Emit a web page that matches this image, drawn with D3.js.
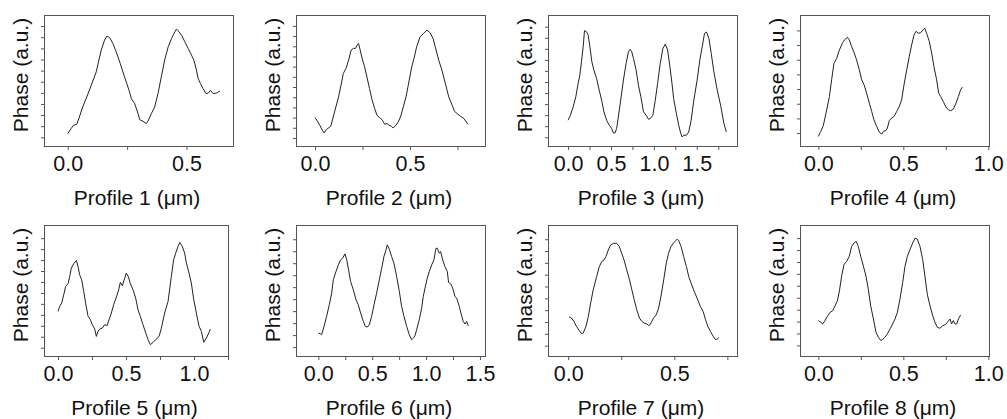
<!DOCTYPE html>
<html>
<head>
<meta charset="utf-8">
<script src="https://cdn.jsdelivr.net/npm/d3@7"></script>
<style>
  body { margin: 0; background: #fff; }
  svg { display: block; font-family: "Liberation Sans", Arial, sans-serif; }
  .frame { fill: none; stroke: #555; stroke-width: 1; }
  .axis path { display: none; }
  .axis line { stroke: #555; }
  .ttl { fill: #111; font-size: 21px; }
  .trace { fill: none; stroke: #222; stroke-width: 1; }
</style>
</head>
<body>
<div id="chart"></div>
<script>
// profile data: [distance (um), phase (a.u.)]
var profile1 = [[0.000,0.33],[0.014,0.78],[0.024,1.08],[0.038,1.17],[0.049,1.83],[0.063,2.73],[0.080,3.63],[0.099,4.68],[0.120,5.89],[0.131,6.94],[0.141,7.84],[0.155,8.74],[0.165,9.10],[0.176,8.98],[0.190,8.44],[0.204,7.69],[0.221,6.64],[0.239,5.44],[0.258,4.23],[0.268,3.48],[0.282,3.03],[0.296,2.13],[0.303,1.59],[0.317,1.44],[0.331,1.23],[0.338,1.47],[0.352,2.13],[0.366,2.73],[0.380,3.93],[0.394,5.44],[0.408,6.94],[0.423,8.14],[0.437,8.89],[0.451,9.49],[0.458,9.73],[0.465,9.58],[0.479,9.19],[0.493,8.59],[0.507,7.99],[0.521,7.39],[0.531,6.94],[0.542,6.04],[0.549,5.29],[0.559,4.83],[0.570,4.38],[0.582,3.93],[0.592,3.99],[0.601,4.23],[0.613,3.93],[0.627,3.99],[0.641,4.17]];
var profile2 = [[0.000,2.00],[0.012,1.67],[0.025,1.25],[0.039,0.75],[0.048,0.49],[0.060,0.82],[0.074,1.02],[0.083,1.15],[0.096,2.07],[0.110,3.05],[0.124,4.03],[0.137,5.18],[0.149,6.33],[0.163,6.82],[0.177,7.64],[0.190,8.62],[0.202,8.79],[0.213,8.79],[0.220,9.05],[0.229,9.28],[0.238,8.62],[0.248,7.80],[0.261,6.98],[0.273,6.00],[0.287,4.85],[0.301,3.70],[0.314,2.89],[0.326,2.23],[0.340,2.00],[0.355,1.74],[0.367,1.34],[0.379,1.41],[0.390,1.25],[0.402,1.15],[0.411,0.98],[0.426,1.25],[0.438,1.57],[0.450,2.07],[0.465,3.05],[0.479,4.03],[0.491,5.18],[0.509,6.98],[0.521,7.80],[0.535,8.95],[0.553,9.93],[0.571,10.26],[0.589,10.59],[0.606,10.33],[0.621,9.77],[0.633,8.95],[0.651,7.64],[0.668,6.66],[0.686,5.34],[0.704,4.03],[0.722,3.21],[0.734,2.62],[0.748,2.39],[0.766,2.13],[0.784,1.90],[0.805,1.34]];
var profile3 = [[0.000,1.54],[0.027,1.99],[0.059,2.75],[0.090,3.66],[0.117,4.86],[0.137,5.62],[0.156,6.83],[0.176,8.19],[0.191,9.64],[0.215,9.55],[0.234,9.24],[0.254,8.19],[0.277,6.83],[0.301,6.07],[0.332,5.32],[0.363,4.26],[0.391,3.35],[0.418,2.30],[0.449,1.54],[0.480,1.09],[0.508,0.79],[0.527,0.39],[0.547,0.39],[0.566,0.79],[0.586,1.84],[0.613,3.35],[0.645,5.17],[0.676,6.68],[0.703,7.73],[0.723,7.95],[0.742,7.73],[0.762,7.13],[0.793,6.07],[0.820,4.71],[0.848,3.66],[0.879,2.30],[0.910,1.99],[0.938,1.63],[0.957,1.69],[0.988,1.99],[1.016,3.35],[1.043,4.86],[1.074,6.68],[1.105,8.04],[1.133,8.43],[1.160,7.89],[1.184,6.53],[1.211,4.86],[1.230,3.50],[1.262,2.14],[1.289,1.09],[1.309,0.48],[1.328,0.03],[1.348,0.18],[1.379,0.18],[1.406,0.48],[1.434,1.54],[1.465,3.35],[1.504,5.17],[1.535,6.98],[1.563,8.19],[1.590,9.40],[1.613,9.52],[1.641,8.94],[1.668,7.58],[1.699,5.92],[1.738,4.26],[1.777,2.90],[1.816,1.24],[1.844,0.48]];
var profile4 = [[0.000,-0.23],[0.014,0.11],[0.029,0.50],[0.045,1.36],[0.065,2.49],[0.078,3.63],[0.092,4.76],[0.108,5.10],[0.124,5.67],[0.143,6.17],[0.157,6.39],[0.171,6.53],[0.182,6.35],[0.196,5.90],[0.210,5.49],[0.225,4.99],[0.241,4.31],[0.255,3.63],[0.269,3.29],[0.284,2.72],[0.300,2.04],[0.314,1.47],[0.327,0.91],[0.343,0.45],[0.359,0.05],[0.373,-0.07],[0.382,0.11],[0.398,0.18],[0.406,0.34],[0.418,0.86],[0.431,1.02],[0.445,1.13],[0.461,1.47],[0.476,1.81],[0.490,2.27],[0.504,3.29],[0.520,4.31],[0.535,5.22],[0.549,6.01],[0.563,6.69],[0.575,6.94],[0.588,6.80],[0.602,6.85],[0.618,7.07],[0.627,7.14],[0.637,6.80],[0.653,6.24],[0.667,5.44],[0.680,4.54],[0.696,3.63],[0.708,2.72],[0.720,2.49],[0.735,2.15],[0.751,1.77],[0.765,1.59],[0.778,1.52],[0.794,1.63],[0.810,2.04],[0.824,2.49],[0.837,2.95],[0.847,3.13]];
var profile5 = [[0.000,3.31],[0.012,3.77],[0.027,4.07],[0.042,4.83],[0.056,5.59],[0.074,5.84],[0.086,6.50],[0.098,7.26],[0.115,7.66],[0.135,7.96],[0.147,7.42],[0.159,6.66],[0.174,6.20],[0.189,5.14],[0.203,4.07],[0.221,2.86],[0.238,2.55],[0.252,2.10],[0.270,1.70],[0.282,1.03],[0.294,1.49],[0.306,1.70],[0.326,1.79],[0.343,2.10],[0.360,2.01],[0.375,2.55],[0.392,3.16],[0.409,3.92],[0.429,4.62],[0.446,5.29],[0.458,5.96],[0.473,5.65],[0.490,6.35],[0.502,6.81],[0.517,6.50],[0.532,5.84],[0.551,5.29],[0.571,4.53],[0.588,3.47],[0.605,2.86],[0.625,2.10],[0.645,1.34],[0.662,0.73],[0.679,0.27],[0.699,0.49],[0.718,0.73],[0.743,1.03],[0.760,1.79],[0.784,3.16],[0.809,4.22],[0.833,6.50],[0.850,8.02],[0.865,8.63],[0.882,9.24],[0.895,9.60],[0.914,9.24],[0.931,8.63],[0.944,7.72],[0.963,6.81],[0.980,5.90],[0.998,4.38],[1.017,3.16],[1.037,1.95],[1.054,1.49],[1.071,0.49],[1.091,0.88],[1.110,1.40],[1.120,1.70]];
var profile6 = [[0.000,1.17],[0.022,1.11],[0.031,1.03],[0.053,1.72],[0.077,2.56],[0.102,3.53],[0.124,4.50],[0.139,5.61],[0.164,6.31],[0.186,6.86],[0.207,7.28],[0.226,7.42],[0.247,7.78],[0.263,7.33],[0.281,6.44],[0.300,5.47],[0.325,4.78],[0.350,3.94],[0.371,3.53],[0.393,2.83],[0.418,2.14],[0.436,1.72],[0.455,1.67],[0.473,1.86],[0.495,2.56],[0.517,3.53],[0.541,4.50],[0.566,5.61],[0.588,6.58],[0.609,7.56],[0.628,8.11],[0.640,8.53],[0.659,8.17],[0.680,7.56],[0.702,7.00],[0.727,5.89],[0.752,4.64],[0.773,3.39],[0.795,2.56],[0.820,1.72],[0.844,1.03],[0.866,0.61],[0.882,0.75],[0.897,0.94],[0.912,1.44],[0.937,2.28],[0.959,3.25],[0.974,4.22],[0.990,4.92],[1.011,5.75],[1.030,6.31],[1.052,6.86],[1.073,7.28],[1.092,8.25],[1.104,8.25],[1.123,7.83],[1.135,7.97],[1.154,7.28],[1.175,6.72],[1.197,6.31],[1.209,5.39],[1.228,5.28],[1.247,4.92],[1.268,4.22],[1.284,4.08],[1.308,3.39],[1.330,2.61],[1.345,2.14],[1.361,1.92],[1.376,2.14],[1.392,1.78]];
var profile7 = [[0.005,2.42],[0.016,2.33],[0.027,2.05],[0.039,1.63],[0.052,1.29],[0.063,1.01],[0.071,1.07],[0.084,1.63],[0.095,2.47],[0.106,3.60],[0.118,4.72],[0.134,5.84],[0.147,6.69],[0.158,7.11],[0.169,7.25],[0.178,7.53],[0.189,8.09],[0.200,8.51],[0.213,8.65],[0.229,8.65],[0.241,8.37],[0.252,7.81],[0.263,7.25],[0.276,6.40],[0.289,5.56],[0.300,4.72],[0.311,3.88],[0.323,3.03],[0.336,2.33],[0.347,2.05],[0.358,1.91],[0.371,1.83],[0.379,1.69],[0.386,1.77],[0.394,2.05],[0.402,2.33],[0.415,2.61],[0.426,3.17],[0.437,4.16],[0.450,5.56],[0.462,6.97],[0.473,7.81],[0.484,8.37],[0.497,8.71],[0.505,8.85],[0.513,8.99],[0.521,8.88],[0.532,8.37],[0.544,7.53],[0.557,6.69],[0.568,5.84],[0.579,5.28],[0.591,4.72],[0.607,4.02],[0.623,3.31],[0.636,2.89],[0.647,2.19],[0.658,1.63],[0.670,1.21],[0.683,0.79],[0.694,0.51],[0.702,0.56],[0.710,0.70]];
var profile8 = [[0.000,2.08],[0.014,1.94],[0.025,1.80],[0.039,2.08],[0.053,2.44],[0.069,2.77],[0.084,2.91],[0.098,3.32],[0.112,3.74],[0.124,4.57],[0.137,5.82],[0.151,6.79],[0.167,7.06],[0.182,7.48],[0.196,8.31],[0.210,8.59],[0.222,8.73],[0.235,8.31],[0.249,7.48],[0.265,6.65],[0.280,5.82],[0.294,4.71],[0.308,3.32],[0.324,2.22],[0.339,1.11],[0.353,0.69],[0.367,0.42],[0.378,0.50],[0.392,0.69],[0.406,0.97],[0.422,1.39],[0.437,1.80],[0.451,2.22],[0.465,2.77],[0.480,3.88],[0.496,5.26],[0.510,6.65],[0.524,7.48],[0.539,8.03],[0.555,8.59],[0.569,9.00],[0.582,8.92],[0.598,8.31],[0.614,7.20],[0.627,5.82],[0.641,4.29],[0.657,3.32],[0.673,2.49],[0.686,1.94],[0.700,1.52],[0.716,1.44],[0.731,1.66],[0.745,1.72],[0.759,1.94],[0.775,2.22],[0.784,1.80],[0.794,2.08],[0.804,1.80],[0.814,1.80],[0.824,2.22],[0.837,2.55]];

var profiles = [profile1, profile2, profile3, profile4, profile5, profile6, profile7, profile8];
var xLabels = ["Profile 1 (\u03bcm)", "Profile 2 (\u03bcm)", "Profile 3 (\u03bcm)", "Profile 4 (\u03bcm)",
               "Profile 5 (\u03bcm)", "Profile 6 (\u03bcm)", "Profile 7 (\u03bcm)", "Profile 8 (\u03bcm)"];
var yLabel = "Phase (a.u.)";
var xDomains = [[-0.1, 0.7], [-0.1, 0.9], [-0.234, 1.98], [-0.108, 1.01],
                [-0.103, 1.257], [-0.207, 1.556], [-0.095, 0.8], [-0.108, 1.01]];
var xTickLabels = [[0, 0.5], [0, 0.5], [0, 0.5, 1, 1.5], [0, 0.5, 1],
                   [0, 0.5, 1], [0, 0.5, 1, 1.5], [0, 0.5], [0, 0.5, 1]];
var yDomains = [[-0.87, 11.0], [-0.89, 12.07], [-0.88, 11.06], [-0.95, 8.05],
                [-0.85, 11.2], [-0.83, 10.19], [-0.96, 10.2], [-0.97, 10.1]];
var yTickMax = [10, 11, 10, 7, 10, 9, 9, 9];

var width = 1007, height = 419;
var boxLeft = [44, 296, 548, 800];
var boxTop = [15, 225];
var boxH = 132;

var svg = d3.select("#chart").append("svg")
  .attr("width", width)
  .attr("height", height);

profiles.forEach(function(data, i) {
  var row = Math.floor(i / 4), col = i % 4;
  var x0 = boxLeft[col], y0 = boxTop[row];
  var w = (i === 4) ? 185 : 190;

  var xScale = d3.scaleLinear().domain(xDomains[i]).range([x0, x0 + w]);
  var yScale = d3.scaleLinear().domain(yDomains[i]).range([y0 + boxH, y0]);

  var g = svg.append("g");

  // minor ticks every 0.25 um, labels on 0.5 steps
  var xt = d3.range(0, xDomains[i][1] + 0.001, 0.25);
  var labelled = xTickLabels[i];
  var xAxis = d3.axisBottom(xScale)
    .tickValues(xt)
    .tickSize(3)
    .tickSizeOuter(0)
    .tickFormat(function(d) {
      return labelled.some(function(v) { return Math.abs(v - d) < 1e-6; }) ? d3.format(".1f")(d) : "";
    });
  var gx = g.append("g")
    .attr("class", "axis")
    .attr("transform", "translate(0," + (y0 + boxH) + ")")
    .call(xAxis)
    .attr("font-family", null)
    .attr("font-size", null);
  gx.selectAll("text")
    .attr("y", 16)
    .attr("dy", "0.36em")
    .style("font-size", "21.5px")
    .style("fill", "#111");

  var yAxis = d3.axisLeft(yScale)
    .tickValues(d3.range(0, yTickMax[i] + 1))
    .tickSize(3)
    .tickSizeOuter(0)
    .tickFormat("");
  g.append("g")
    .attr("class", "axis")
    .attr("transform", "translate(" + x0 + ",0)")
    .call(yAxis);

  g.append("rect")
    .attr("class", "frame")
    .attr("x", x0 + 0.5)
    .attr("y", y0 + 0.5)
    .attr("width", w - 1)
    .attr("height", boxH - 1);

  var line = d3.line()
    .x(function(d) { return xScale(d[0]); })
    .y(function(d) { return yScale(d[1]); });

  g.append("path")
    .datum(data)
    .attr("class", "trace")
    .attr("d", line);

  g.append("text")
    .attr("class", "ttl")
    .attr("x", x0 + w / 2 - 2)
    .attr("y", y0 + boxH + 50)
    .attr("text-anchor", "middle")
    .attr("dominant-baseline", "central")
    .text(xLabels[i]);

  g.append("text")
    .attr("class", "ttl")
    .attr("transform", "translate(" + (x0 - 24) + "," + (y0 + boxH / 2 - 6) + ")rotate(-90)")
    .attr("text-anchor", "middle")
    .attr("dominant-baseline", "central")
    .text(yLabel);
});
</script>
</body>
</html>
